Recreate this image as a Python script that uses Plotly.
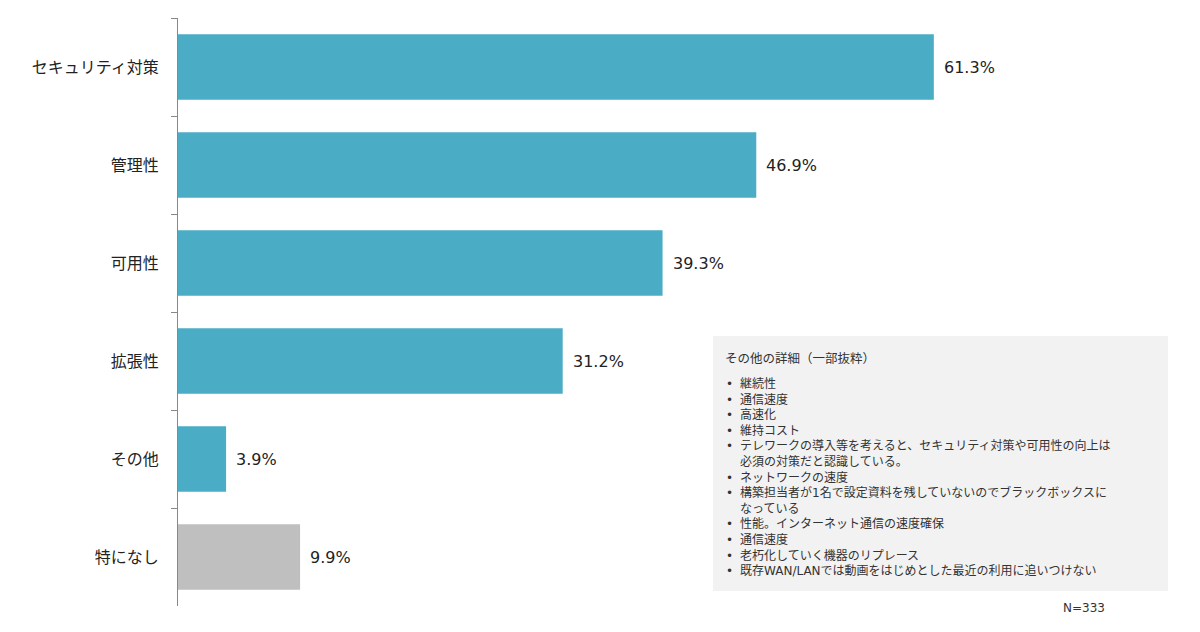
import plotly.graph_objects as go

categories = ['セキュリティ対策', '管理性', '可用性', '拡張性', 'その他', '特になし']
values = [61.3, 46.9, 39.3, 31.2, 3.9, 9.9]
bar_colors = ['#4BACC6', '#4BACC6', '#4BACC6', '#4BACC6', '#4BACC6', '#BFBFBF']

box_title = 'その他の詳細（一部抜粋）'
# (bullet?, text) per line of the "other" notes box
box_lines = [
    (True, '継続性'),
    (True, '通信速度'),
    (True, '高速化'),
    (True, '維持コスト'),
    (True, 'テレワークの導入等を考えると、セキュリティ対策や可用性の向上は'),
    (False, '必須の対策だと認識している。'),
    (True, 'ネットワークの速度'),
    (True, '構築担当者が1名で設定資料を残していないのでブラックボックスに'),
    (False, 'なっている'),
    (True, '性能。インターネット通信の速度確保'),
    (True, '通信速度'),
    (True, '老朽化していく機器のリプレース'),
    (True, '既存WAN/LANでは動画をはじめとした最近の利用に追いつけない'),
]
n_note = 'N=333'

FONT = 'DejaVu Sans, Noto Sans CJK JP, sans-serif'

# page body has an 8px margin; positions below are window pixels
OX, OY = 8, 8
W, H = 1200, 632
L, R, T, B = 170, 28, 10, 34
pw, ph = W - L - R, H - T - B


def px(x):
    return (x - OX - L) / pw


def py(y):
    return (H - B - (y - OY)) / ph


fig = go.Figure()
fig.add_trace(go.Bar(
    y=categories, x=values, orientation='h',
    marker=dict(color=bar_colors, line=dict(width=0)),
    width=0.67, hoverinfo='skip',
))

annotations = []
for c, v in zip(categories, values):
    annotations.append(dict(
        x=v, y=c, xref='x', yref='y', text=f'{v:.1f}%', showarrow=False,
        xanchor='left', xshift=8, font=dict(family=FONT, size=16, color='#222222'),
    ))

annotations.append(dict(
    x=px(723), y=py(358), xref='paper', yref='paper', text=box_title,
    showarrow=False, xanchor='left', yanchor='middle',
    font=dict(family=FONT, size=12.5, color='#333333'),
))
bullets = '<br>'.join('•' if b else '\u00a0' for b, _ in box_lines)
body = '<br>'.join(t for _, t in box_lines)
first, last = 384, 384 + 15.6 * (len(box_lines) - 1)
annotations.append(dict(
    x=px(729), y=py((first + last) / 2), xref='paper', yref='paper', text=bullets,
    showarrow=False, xanchor='center', yanchor='middle', align='center',
    font=dict(family=FONT, size=12, color='#333333'),
))
annotations.append(dict(
    x=px(738), y=py((first + last) / 2), xref='paper', yref='paper', text=body,
    showarrow=False, xanchor='left', yanchor='middle', align='left',
    font=dict(family=FONT, size=12, color='#333333'),
))
annotations.append(dict(
    x=px(1061), y=py(608), xref='paper', yref='paper', text=n_note,
    showarrow=False, xanchor='left', yanchor='middle',
    font=dict(family=FONT, size=12, color='#333333'),
))

fig.update_layout(
    width=W, height=H,
    margin=dict(l=L, r=R, t=T, b=B),
    paper_bgcolor='white', plot_bgcolor='white',
    showlegend=False,
    font=dict(family=FONT),
    annotations=annotations,
    shapes=[dict(
        type='rect', xref='paper', yref='paper',
        x0=px(713), x1=px(1168), y0=py(591), y1=py(336),
        fillcolor='#F2F2F2', line=dict(width=0), layer='above',
    )],
)
fig.update_xaxes(range=[0, pw / 12.33], visible=False, fixedrange=True)
fig.update_yaxes(
    autorange='reversed', showline=True, linecolor='#888888', linewidth=1,
    ticks='outside', tickson='boundaries', ticklen=6, tickcolor='#888888',
    tickfont=dict(family=FONT, size=16, color='#222222'),
    ticklabelstandoff=15, showgrid=False, zeroline=False,
)

fig.write_html('out.html')
